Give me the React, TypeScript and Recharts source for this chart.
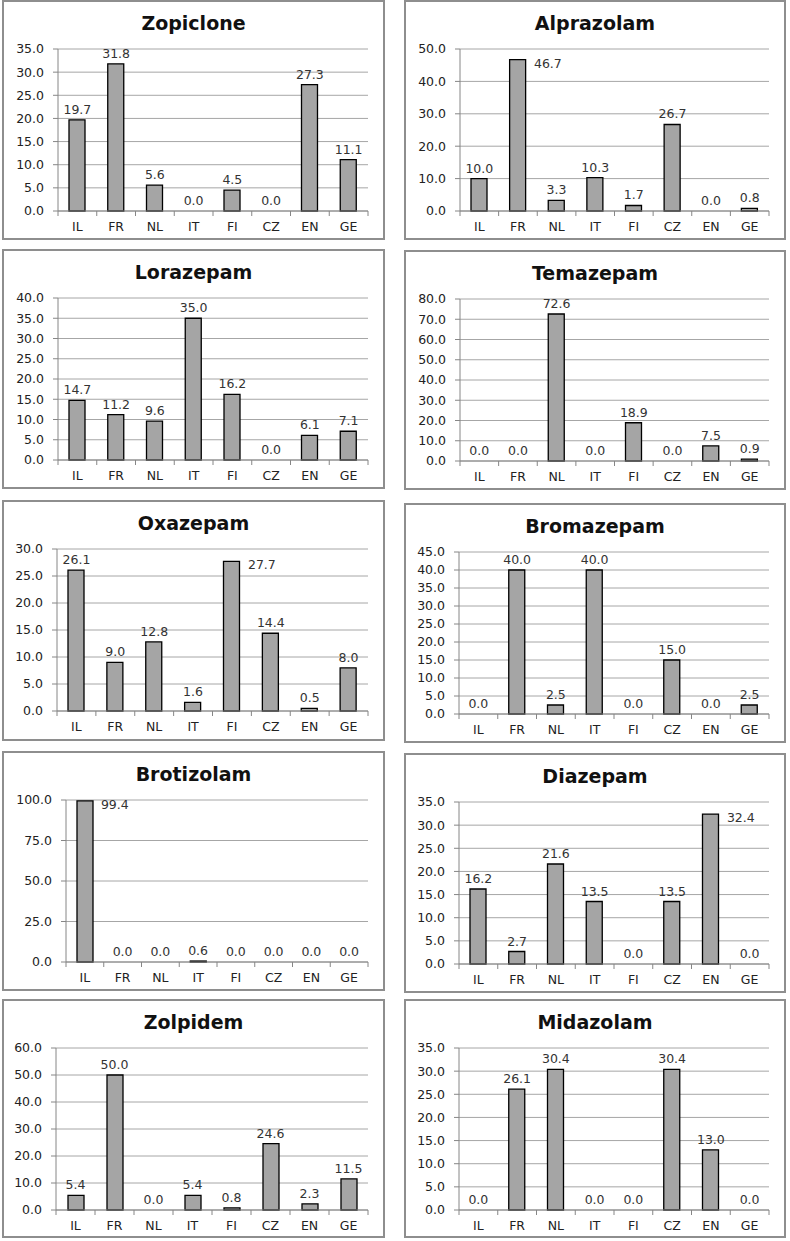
import React from 'react';
import { ComposedChart, Bar, Line, XAxis, YAxis, CartesianGrid, LabelList } from 'recharts';

const countries = ['IL', 'FR', 'NL', 'IT', 'FI', 'CZ', 'EN', 'GE'];

const zopiclone = [19.7, 31.8, 5.6, 0.0, 4.5, 0.0, 27.3, 11.1];
const alprazolam = [10.0, 46.7, 3.3, 10.3, 1.7, 26.7, 0.0, 0.8];
const lorazepam = [14.7, 11.2, 9.6, 35.0, 16.2, 0.0, 6.1, 7.1];
const temazepam = [0.0, 0.0, 72.6, 0.0, 18.9, 0.0, 7.5, 0.9];
const oxazepam = [26.1, 9.0, 12.8, 1.6, 27.7, 14.4, 0.5, 8.0];
const bromazepam = [0.0, 40.0, 2.5, 40.0, 0.0, 15.0, 0.0, 2.5];
const brotizolam = [99.4, 0.0, 0.0, 0.6, 0.0, 0.0, 0.0, 0.0];
const diazepam = [16.2, 2.7, 21.6, 13.5, 0.0, 13.5, 32.4, 0.0];
const zolpidem = [5.4, 50.0, 0.0, 5.4, 0.8, 24.6, 2.3, 11.5];
const midazolam = [0.0, 26.1, 30.4, 0.0, 0.0, 30.4, 13.0, 0.0];

const ticks30 = [0, 5, 10, 15, 20, 25, 30];
const ticks35 = [0, 5, 10, 15, 20, 25, 30, 35];
const ticks40 = [0, 5, 10, 15, 20, 25, 30, 35, 40];
const ticks45 = [0, 5, 10, 15, 20, 25, 30, 35, 40, 45];
const ticks50 = [0, 10, 20, 30, 40, 50];
const ticks60 = [0, 10, 20, 30, 40, 50, 60];
const ticks80 = [0, 10, 20, 30, 40, 50, 60, 70, 80];
const ticks100 = [0, 25, 50, 75, 100];

const FONT = '"DejaVu Sans", sans-serif';
const AXIS = '#868686';
const BAR = 16;

type PanelProps = {
  title: string;
  values: number[];
  ticks: number[];
  left: number;
  top: number;
  width: number;
  height: number;
  axisWidth: number;
};

const Panel = ({ title, values, ticks, left, top, width, height, axisWidth }: PanelProps) => {
  const data = countries.map((c, i) => ({ country: c, value: values[i] }));
  const max = ticks[ticks.length - 1];
  const rightPad = 17;
  const band = (width - rightPad - axisWidth) / countries.length;

  const renderTick = (p: any) => {
    const { x, y, payload, index } = p;
    return (
      <g>
        <line x1={x - band / 2} x2={x - band / 2} y1={y} y2={y + 5} stroke={AXIS} />
        {index === countries.length - 1 && (
          <line x1={x + band / 2} x2={x + band / 2} y1={y} y2={y + 5} stroke={AXIS} />
        )}
        <text x={x} y={y + 20} textAnchor="middle" fontSize={12.5} fill="#222" fontFamily={FONT}>
          {payload.value}
        </text>
      </g>
    );
  };

  // labels hang off an invisible line so that zero values still get one
  const renderLabel = (p: any) => {
    const { x, y, value } = p;
    const v = Number(value);
    const beside = v / max > 0.92;
    return (
      <text
        x={beside ? x + BAR / 2 + 8 : x}
        y={beside ? y + 8 : y - 6}
        textAnchor={beside ? 'start' : 'middle'}
        fontSize={12.5}
        fill="#333"
        fontFamily={FONT}
      >
        {v.toFixed(1)}
      </text>
    );
  };

  return (
    <div style={{ position: 'absolute', left, top, width, height }}>
      <div
        style={{
          position: 'absolute',
          inset: 0,
          border: '2px solid #8e8e8e',
          boxSizing: 'border-box',
        }}
      />
      <div
        style={{
          position: 'absolute',
          left: 0,
          right: 0,
          top: 11,
          lineHeight: '24px',
          textAlign: 'center',
          fontWeight: 'bold',
          fontSize: 19,
          fontFamily: FONT,
          color: '#111',
        }}
      >
        {title}
      </div>
      <div style={{ position: 'absolute', left: 0, top: 0 }}>
        <ComposedChart
          width={width}
          height={height}
          data={data}
          margin={{ top: 49, right: rightPad, bottom: 0, left: 0 }}
        >
          <CartesianGrid vertical={false} stroke="#a6a6a6" />
          <XAxis
            dataKey="country"
            interval={0}
            height={height - 211}
            axisLine={{ stroke: AXIS }}
            tickLine={false}
            tickSize={0}
            tickMargin={0}
            tick={renderTick}
          />
          <YAxis
            type="number"
            domain={[0, max]}
            ticks={ticks}
            interval={0}
            width={axisWidth}
            axisLine={{ stroke: AXIS }}
            tickLine={{ stroke: AXIS }}
            tickSize={5}
            tickMargin={9}
            tick={{ fontSize: 12.5, fill: '#222', fontFamily: FONT }}
            tickFormatter={(v: number) => v.toFixed(1)}
          />
          <Bar
            dataKey="value"
            fill="#a5a5a5"
            stroke="#000"
            strokeWidth={1.3}
            barSize={BAR}
            isAnimationActive={false}
          />
          <Line
            dataKey="value"
            stroke="none"
            dot={false}
            activeDot={false}
            isAnimationActive={false}
          >
            <LabelList dataKey="value" content={renderLabel} />
          </Line>
        </ComposedChart>
      </div>
    </div>
  );
};

const L = 2;
const R = 404;

export default function App() {
  return (
    <div style={{ position: 'absolute', left: 0, top: 0, width: 790, height: 1241, background: '#fff' }}>
      <Panel title="Zopiclone" values={zopiclone} ticks={ticks35} left={L} top={0} width={383} height={240} axisWidth={56} />
      <Panel title="Alprazolam" values={alprazolam} ticks={ticks50} left={R} top={0} width={382} height={240} axisWidth={56} />
      <Panel title="Lorazepam" values={lorazepam} ticks={ticks40} left={L} top={249} width={383} height={240} axisWidth={56} />
      <Panel title="Temazepam" values={temazepam} ticks={ticks80} left={R} top={250} width={382} height={240} axisWidth={56} />
      <Panel title="Oxazepam" values={oxazepam} ticks={ticks30} left={L} top={500} width={383} height={241} axisWidth={55} />
      <Panel title="Bromazepam" values={bromazepam} ticks={ticks45} left={R} top={503} width={382} height={240} axisWidth={55} />
      <Panel title="Brotizolam" values={brotizolam} ticks={ticks100} left={L} top={751} width={383} height={240} axisWidth={64} />
      <Panel title="Diazepam" values={diazepam} ticks={ticks35} left={R} top={753} width={382} height={240} axisWidth={55} />
      <Panel title="Zolpidem" values={zolpidem} ticks={ticks60} left={L} top={999} width={383} height={239} axisWidth={54} />
      <Panel title="Midazolam" values={midazolam} ticks={ticks35} left={R} top={999} width={382} height={239} axisWidth={55} />
    </div>
  );
}
